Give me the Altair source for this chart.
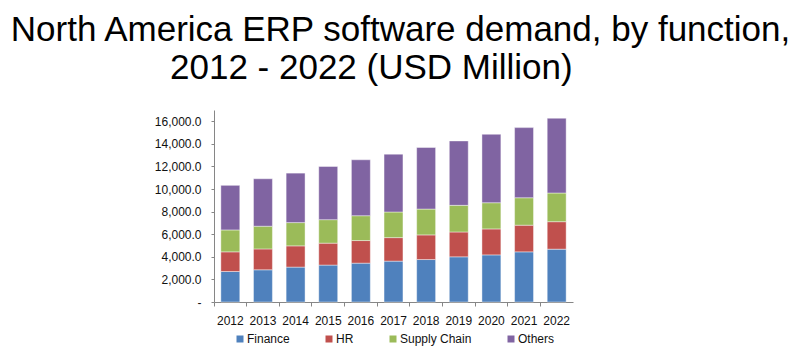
import altair as alt
import pandas as pd

years = ["2012", "2013", "2014", "2015", "2016", "2017", "2018", "2019", "2020", "2021", "2022"]
series = ["Finance", "HR", "Supply Chain", "Others"]
finance = [2700, 2850, 3090, 3270, 3440, 3620, 3760, 4000, 4170, 4440, 4680]
hr = [1740, 1850, 1880, 1940, 2000, 2080, 2180, 2200, 2300, 2360, 2430]
supply_chain = [1940, 2010, 2060, 2080, 2200, 2270, 2290, 2360, 2320, 2430, 2540]
others = [3950, 4200, 4380, 4710, 4950, 5120, 5450, 5700, 6060, 6210, 6620]
colors = ["#4F81BD", "#C0504D", "#9BBB59", "#8064A2"]

rows = []
for si, (name, vals) in enumerate(zip(series, [finance, hr, supply_chain, others])):
    for y, v in zip(years, vals):
        rows.append({"year": y, "segment": name, "value": v, "order": si})
df = pd.DataFrame(rows)

font = "Liberation Sans"

chart = alt.Chart(df).mark_bar(stroke="white", strokeWidth=0.6, strokeOpacity=0.7).encode(
    x=alt.X("year:N", title=None, sort=years,
            scale=alt.Scale(paddingInner=0.42, paddingOuter=0.21),
            axis=alt.Axis(labelAngle=0, labelFont=font, labelFontSize=12, labelColor="#111",
                          domainColor="#868686", tickColor="#868686", tickSize=4,
                          bandPosition=-0.36, labelPadding=9)),
    y=alt.Y("value:Q", title=None, stack="zero",
            scale=alt.Scale(domain=[0, 17000], nice=False),
            axis=alt.Axis(values=list(range(0, 16001, 2000)),
                          labelExpr="datum.value == 0 ? '-' : format(datum.value, ',.1f')",
                          labelFont=font, labelFontSize=12, labelColor="#111",
                          domainColor="#868686", tickColor="#868686", tickSize=3,
                          labelPadding=10, grid=False)),
    color=alt.Color("segment:N", sort=series,
                    scale=alt.Scale(domain=series, range=colors),
                    legend=alt.Legend(title=None, orient="none", direction="horizontal",
                                      legendX=20, legendY=223,
                                      symbolType="square", symbolSize=49, symbolStrokeWidth=0,
                                      labelFont=font, labelFontSize=12, labelColor="#111",
                                      labelOffset=1, columnPadding=33)),
    order=alt.Order("order:Q", sort="ascending"),
).properties(
    width=359,
    height=192,
    background="white",
    title=alt.TitleParams(
        text="North America ERP software demand, by function,",
        subtitle="2012 - 2022 (USD Million)" + "\u00a0" * 6 + "\u200b",
        font=font, fontSize=35, fontWeight="normal", color="#000",
        subtitleFont=font, subtitleFontSize=35, subtitleColor="#000",
        anchor="middle", dx=7, offset=24, subtitlePadding=3,
    ),
    autosize=alt.AutoSizeParams(type="none"),
    padding={"left": 214, "top": 110, "right": 227, "bottom": 51},
).configure_view(strokeWidth=0, stroke="transparent")

chart.save("out.html", embed_options={"renderer": "svg", "actions": False})
